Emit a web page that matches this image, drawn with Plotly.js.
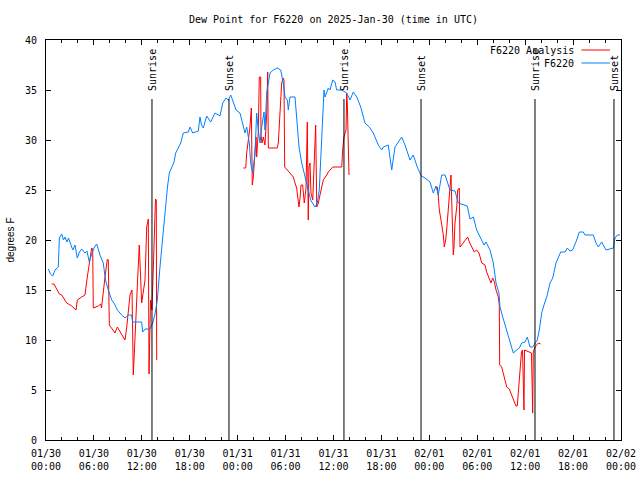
<!DOCTYPE html>
<html>
<head>
<meta charset="utf-8">
<script src="https://cdn.plot.ly/plotly-3.0.1.min.js"></script>
<style>html,body{margin:0;padding:0;background:#fff;}#chart{width:640px;height:480px;}</style>
</head>
<body>
<div id="chart"></div>
<script>
// Hours after 2025-01-30 00:00 UTC
const obsHours = [0.29,0.56,0.84,1.13,1.54,1.67,1.97,2.19,2.38,2.63,2.82,3.01,3.26,3.38,3.63,3.92,4.19,4.47,4.88,5.13,5.42,5.80,6.07,6.35,6.76,7.17,7.45,7.80,8.23,8.58,8.93,9.48,9.89,10.31,10.71,10.86,11.98,12.11,12.40,13.02,13.36,13.65,13.94,14.27,14.56,14.78,15.03,15.21,15.44,15.74,16.03,16.24,16.57,16.87,17.19,17.82,18.03,18.37,19.07,19.28,19.47,19.70,20.12,20.62,21.16,21.79,22.13,22.54,22.83,23.13,23.45,23.79,24.29,24.71,24.92,25.13,25.46,25.63,25.88,26.17,26.38,26.58,26.80,27.01,27.30,27.42,27.64,27.84,28.05,28.46,28.96,29.39,29.71,29.93,30.22,30.34,30.55,31.18,31.52,31.68,32.02,32.31,32.56,32.84,33.14,33.68,33.97,34.22,34.40,34.60,34.81,34.94,35.35,35.56,35.90,36.19,36.40,37.03,37.65,38.07,38.48,38.91,39.41,39.94,40.48,40.98,41.61,42.04,42.24,42.86,43.29,43.70,44.54,44.95,45.58,45.99,46.49,46.99,47.46,48.08,48.50,48.83,49.12,49.55,49.96,50.59,51.21,51.63,52.75,53.09,53.51,53.93,54.34,54.85,55.10,55.60,56.01,56.35,56.72,56.85,57.19,57.69,58.01,58.51,58.94,59.27,59.57,59.98,60.27,60.61,60.94,61.23,61.52,61.77,62.07,62.36,62.70,63.11,63.45,63.86,64.15,64.45,64.99,65.28,65.61,65.95,66.45,66.78,67.28,67.49,68.53,68.87,69.16,69.58,70.12,71.04,71.25,71.54,71.88];
const obsDew = [17.1,16.6,16.4,17.0,17.3,20.2,20.6,20.0,20.3,19.8,20.2,19.7,19.2,19.0,19.5,18.2,18.8,19.1,18.7,18.9,17.8,18.8,19.3,19.6,18.5,17.7,16.0,15.0,14.0,13.6,13.0,12.5,12.2,12.5,12.5,11.8,11.8,10.8,11.1,11.1,11.7,12.6,14.0,17.3,19.7,22.0,24.2,25.3,26.7,27.2,27.8,28.7,29.2,29.7,30.7,30.8,31.3,30.7,30.9,32.3,31.5,31.2,32.4,31.8,32.7,32.4,33.7,34.2,34.0,34.5,33.8,33.0,32.7,31.3,30.7,31.3,29.7,27.7,26.7,28.7,32.7,31.0,29.7,31.3,32.8,31.0,34.7,35.7,36.7,37.0,37.2,37.0,35.7,34.3,34.0,33.0,34.3,34.3,31.0,29.3,27.7,26.7,25.7,25.0,24.0,23.3,23.7,25.0,28.3,32.3,35.0,34.3,35.2,35.0,36.0,35.8,35.0,35.0,34.7,34.0,34.8,34.3,33.3,31.7,31.3,30.7,29.5,29.0,29.3,29.5,27.0,29.3,30.3,29.5,28.0,28.5,27.3,26.4,26.2,25.8,24.7,25.4,24.5,26.5,26.5,25.0,24.9,23.7,23.4,22.1,22.3,21.0,20.3,19.5,19.8,19.0,17.7,15.7,14.7,13.3,12.3,11.0,10.0,8.7,9.0,9.2,9.7,9.8,10.3,9.3,9.3,9.7,10.0,11.0,12.7,13.5,14.3,15.7,16.2,17.7,18.2,18.8,18.8,19.2,18.9,19.0,20.0,20.8,20.8,20.5,20.5,19.7,19.3,19.8,19.0,19.2,20.2,20.5,20.5];

const anaHours = [0.71,1.00,1.67,1.97,2.59,3.22,3.76,3.92,4.47,4.88,5.17,5.51,5.72,5.85,5.92,6.55,6.85,6.95,7.17,7.39,7.68,7.80,7.93,8.23,8.64,8.93,9.27,9.68,9.89,10.11,10.31,10.52,10.77,10.93,11.02,11.14,11.36,11.48,11.68,11.98,12.40,12.61,12.81,12.90,13.09,13.27,13.40,13.59,13.71,13.81,13.86,
  null,
  24.71,25.01,25.13,25.33,25.54,25.71,25.83,25.96,26.17,26.30,26.38,26.58,26.71,26.88,26.92,27.05,27.21,27.42,27.64,27.76,27.84,28.96,29.09,29.30,29.51,29.71,29.80,29.89,30.43,30.97,31.18,31.39,31.52,31.68,31.81,31.93,32.14,32.22,32.34,32.56,32.72,32.84,32.93,33.06,33.18,33.40,33.60,33.77,33.90,34.10,34.31,34.52,34.72,35.15,35.35,35.90,37.03,37.15,37.23,37.31,37.57,37.65,37.73,37.85,37.94,
  null,
  48.83,49.00,49.12,49.25,49.46,49.62,49.75,49.87,50.05,50.17,50.30,50.46,50.59,50.71,50.80,50.93,51.00,51.09,51.21,51.43,51.55,51.75,51.84,52.05,52.47,52.80,53.01,53.31,53.63,53.93,54.22,54.56,54.97,55.18,55.51,55.72,55.94,56.14,56.35,56.64,56.76,56.81,57.06,57.26,57.47,57.69,58.01,58.31,58.51,58.85,59.01,59.14,59.35,59.54,59.67,59.79,59.85,59.92,60.23,60.61,60.79,60.86,60.94,61.02,61.23,61.44,61.65,61.94];
const anaDew = [15.6,15.6,14.6,14.5,13.7,13.4,13.0,14.0,14.3,14.5,16.3,18.0,19.2,19.0,13.2,13.4,13.6,13.2,15.0,16.3,18.1,18.0,11.5,11.2,10.7,11.3,10.8,10.2,10.0,11.3,13.0,14.5,15.0,6.5,8.0,9.7,14.0,16.2,19.5,13.7,16.0,21.3,22.1,6.6,14.0,13.0,17.5,21.0,24.1,24.0,8.0,
  null,
  27.2,27.2,28.7,30.0,31.3,33.2,25.5,26.3,29.7,30.3,28.3,30.8,36.3,36.3,30.5,29.7,30.3,29.5,32.7,36.8,29.2,29.2,29.7,32.7,35.7,36.2,36.0,27.3,26.8,26.3,25.7,25.2,24.3,23.3,24.2,25.5,25.5,24.7,23.7,25.2,31.8,22.0,27.3,27.7,24.7,24.0,28.7,31.5,23.3,23.7,24.5,25.3,26.0,26.5,26.8,27.3,27.3,29.0,30.3,30.3,31.0,34.7,33.7,26.5,26.5,
  null,
  25.3,25.3,24.4,23.0,22.0,21.3,20.5,19.3,20.0,21.0,22.3,24.0,25.7,26.5,24.0,19.0,18.5,19.3,21.7,23.3,25.0,25.2,19.3,19.5,19.9,20.3,19.8,19.3,18.8,19.0,18.7,17.7,17.5,16.8,16.2,15.7,16.2,15.8,15.0,14.3,13.5,7.5,7.3,6.7,6.0,5.3,5.1,4.5,4.0,3.4,3.4,4.7,6.0,8.8,9.0,5.5,3.0,9.0,8.9,8.8,8.7,6.0,2.7,8.8,9.3,9.5,9.7,9.6];

const sunHours = [13.27,22.91,37.31,46.96,61.23,71.12];
const sunLabels = ['Sunrise','Sunset','Sunrise','Sunset','Sunrise','Sunset'];
const sunLineTop = 34.1;

const tickHours = [0,6,12,18,24,30,36,42,48,54,60,66,72];
const tickLabels = ['01/30<br>00:00','01/30<br>06:00','01/30<br>12:00','01/30<br>18:00','01/31<br>00:00','01/31<br>06:00','01/31<br>12:00','01/31<br>18:00','02/01<br>00:00','02/01<br>06:00','02/01<br>12:00','02/01<br>18:00','02/02<br>00:00'];

const seriesNames = ['F6220 Analysis','F6220'];
const seriesColors = ['#ff0000','#0080ff'];

const T0 = Date.UTC(2025,0,30);
const toT = h => (h === null ? null : T0 + h*3600000);

const mono = 'DejaVu Sans Mono, monospace';

const traces = [
  {x: anaHours.map(toT), y: anaDew, type:'scatter', mode:'lines', name: seriesNames[0],
   line:{color: seriesColors[0], width:1}, connectgaps:false, showlegend:false},
  {x: obsHours.map(toT), y: obsDew, type:'scatter', mode:'lines', name: seriesNames[1],
   line:{color: seriesColors[1], width:1}, showlegend:false}
];

const shapes = sunHours.map(h => ({type:'line', xref:'x', yref:'y', x0:toT(h), x1:toT(h), y0:0, y1:sunLineTop,
  line:{color:'#000', width:1}}));
// legend samples (gnuplot style: text then line)
const legY = [0.975, 0.9425];
seriesColors.forEach((c,i) => shapes.push({type:'line', xref:'paper', yref:'paper',
  x0:(581.5-46)/575, x1:(610-46)/575, y0:legY[i], y1:legY[i], line:{color:c, width:1}}));

const annotations = sunHours.map((h,i) => ({x:toT(h), xref:'x', y:(440-92)/400, yref:'paper',
  text: sunLabels[i], textangle:-90, showarrow:false, xanchor:'center', yanchor:'bottom',
  font:{family:mono, size:10, color:'#000'}, borderpad:0}));
seriesNames.forEach((n,i) => annotations.push({x:(575-46)/575, xref:'paper', y:legY[i], yref:'paper',
  text:n, showarrow:false, xanchor:'right', yanchor:'middle', font:{family:mono, size:10, color:'#000'}, borderpad:0}));

const layout = {
  width:640, height:480,
  margin:{l:46, r:19, t:40, b:40, pad:0},
  paper_bgcolor:'#fff', plot_bgcolor:'#fff',
  title:{text:'Dew Point for F6220 on 2025-Jan-30 (time in UTC)', font:{family:mono, size:10, color:'#000'},
    x:0.5, xref:'paper', y:1-19/480, yref:'container', yanchor:'middle'},
  xaxis:{type:'date', range:[toT(0), toT(72)], tickmode:'array', tickvals:tickHours.map(toT), ticktext:tickLabels,
    ticks:'inside', ticklen:5, tickcolor:'#000', tickwidth:1, showline:true, linecolor:'#000', linewidth:1,
    mirror:'allticks', showgrid:false, zeroline:false,
    minor:{dtick:2*3600000, tick0:toT(0), ticks:'inside', ticklen:3, tickcolor:'#000', showgrid:false},
    tickfont:{family:mono, size:10, color:'#000'}, ticklabelstandoff:4},
  yaxis:{range:[0,40], dtick:5, tick0:0, ticks:'inside', ticklen:5, tickcolor:'#000', showline:true, linecolor:'#000',
    linewidth:1, mirror:'allticks', showgrid:false, zeroline:false,
    tickfont:{family:mono, size:10, color:'#000'}, ticklabelstandoff:6,
    title:{text:'degrees F', font:{family:'Liberation Sans, sans-serif', size:10, color:'#000'}, standoff:8}},
  shapes: shapes,
  annotations: annotations,
  showlegend:false
};

Plotly.newPlot('chart', traces, layout, {displayModeBar:false, staticPlot:true});
</script>
</body>
</html>
